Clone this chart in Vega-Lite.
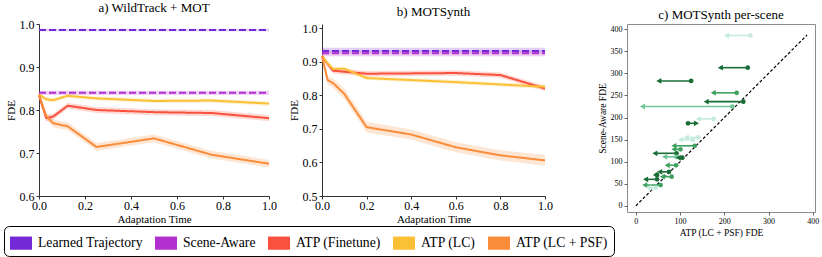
{
  "$schema": "https://vega.github.io/schema/vega-lite/v6.json",
  "padding": {"left": 3, "top": 2, "right": 2, "bottom": 0},
  "config": {
    "font": "Liberation Serif",
    "view": {"stroke": null},
    "axis": {"grid": false, "labelFont": "Liberation Serif", "titleFont": "Liberation Serif", "labelColor": "black", "titleColor": "black", "titleFontWeight": "normal", "domainColor": "#333", "tickColor": "#333", "labelFlush": false, "labelOverlap": false},
    "title": {"font": "Liberation Serif", "fontSize": 13, "fontWeight": "normal", "color": "black"},
    "legend": {"labelFont": "Liberation Serif"}
  },
  "datasets": {
    "curves": [
      {"panel": "a", "method": "Learned Trajectory", "t": 0, "fde": 0.986, "lo": 0.983, "hi": 0.989},
      {"panel": "a", "method": "Learned Trajectory", "t": 1, "fde": 0.986, "lo": 0.983, "hi": 0.989},
      {"panel": "a", "method": "Scene-Aware", "t": 0, "fde": 0.840, "lo": 0.835, "hi": 0.845},
      {"panel": "a", "method": "Scene-Aware", "t": 1, "fde": 0.840, "lo": 0.835, "hi": 0.845},
      {"panel": "a", "method": "ATP (Finetune)", "t": 0, "fde": 0.834, "lo": 0.828, "hi": 0.840},
      {"panel": "a", "method": "ATP (Finetune)", "t": 0.03125, "fde": 0.781, "lo": 0.774, "hi": 0.788},
      {"panel": "a", "method": "ATP (Finetune)", "t": 0.0625, "fde": 0.785, "lo": 0.778, "hi": 0.792},
      {"panel": "a", "method": "ATP (Finetune)", "t": 0.125, "fde": 0.810, "lo": 0.803, "hi": 0.817},
      {"panel": "a", "method": "ATP (Finetune)", "t": 0.25, "fde": 0.800, "lo": 0.793, "hi": 0.807},
      {"panel": "a", "method": "ATP (Finetune)", "t": 0.5, "fde": 0.795, "lo": 0.788, "hi": 0.802},
      {"panel": "a", "method": "ATP (Finetune)", "t": 0.75, "fde": 0.793, "lo": 0.786, "hi": 0.800},
      {"panel": "a", "method": "ATP (Finetune)", "t": 1, "fde": 0.781, "lo": 0.774, "hi": 0.788},
      {"panel": "a", "method": "ATP (LC)", "t": 0, "fde": 0.836, "lo": 0.831, "hi": 0.841},
      {"panel": "a", "method": "ATP (LC)", "t": 0.03125, "fde": 0.825, "lo": 0.820, "hi": 0.830},
      {"panel": "a", "method": "ATP (LC)", "t": 0.0625, "fde": 0.823, "lo": 0.818, "hi": 0.828},
      {"panel": "a", "method": "ATP (LC)", "t": 0.125, "fde": 0.833, "lo": 0.828, "hi": 0.838},
      {"panel": "a", "method": "ATP (LC)", "t": 0.25, "fde": 0.827, "lo": 0.822, "hi": 0.832},
      {"panel": "a", "method": "ATP (LC)", "t": 0.5, "fde": 0.821, "lo": 0.816, "hi": 0.826},
      {"panel": "a", "method": "ATP (LC)", "t": 0.75, "fde": 0.822, "lo": 0.817, "hi": 0.827},
      {"panel": "a", "method": "ATP (LC)", "t": 1, "fde": 0.815, "lo": 0.810, "hi": 0.820},
      {"panel": "a", "method": "ATP (LC + PSF)", "t": 0, "fde": 0.836, "lo": 0.828, "hi": 0.844},
      {"panel": "a", "method": "ATP (LC + PSF)", "t": 0.03125, "fde": 0.786, "lo": 0.777, "hi": 0.795},
      {"panel": "a", "method": "ATP (LC + PSF)", "t": 0.0625, "fde": 0.769, "lo": 0.760, "hi": 0.778},
      {"panel": "a", "method": "ATP (LC + PSF)", "t": 0.125, "fde": 0.762, "lo": 0.753, "hi": 0.771},
      {"panel": "a", "method": "ATP (LC + PSF)", "t": 0.25, "fde": 0.714, "lo": 0.705, "hi": 0.723},
      {"panel": "a", "method": "ATP (LC + PSF)", "t": 0.5, "fde": 0.734, "lo": 0.725, "hi": 0.743},
      {"panel": "a", "method": "ATP (LC + PSF)", "t": 0.75, "fde": 0.696, "lo": 0.687, "hi": 0.705},
      {"panel": "a", "method": "ATP (LC + PSF)", "t": 1, "fde": 0.675, "lo": 0.666, "hi": 0.684},
      {"panel": "b", "method": "Learned Trajectory", "t": 0, "fde": 0.932, "lo": 0.924, "hi": 0.941},
      {"panel": "b", "method": "Learned Trajectory", "t": 1, "fde": 0.932, "lo": 0.924, "hi": 0.941},
      {"panel": "b", "method": "Scene-Aware", "t": 0, "fde": 0.925, "lo": 0.916, "hi": 0.933},
      {"panel": "b", "method": "Scene-Aware", "t": 1, "fde": 0.925, "lo": 0.916, "hi": 0.933},
      {"panel": "b", "method": "ATP (Finetune)", "t": 0, "fde": 0.917, "lo": 0.909, "hi": 0.925},
      {"panel": "b", "method": "ATP (Finetune)", "t": 0.025, "fde": 0.893, "lo": 0.885, "hi": 0.901},
      {"panel": "b", "method": "ATP (Finetune)", "t": 0.05, "fde": 0.873, "lo": 0.865, "hi": 0.881},
      {"panel": "b", "method": "ATP (Finetune)", "t": 0.1, "fde": 0.870, "lo": 0.862, "hi": 0.878},
      {"panel": "b", "method": "ATP (Finetune)", "t": 0.2, "fde": 0.864, "lo": 0.856, "hi": 0.872},
      {"panel": "b", "method": "ATP (Finetune)", "t": 0.4, "fde": 0.865, "lo": 0.857, "hi": 0.873},
      {"panel": "b", "method": "ATP (Finetune)", "t": 0.6, "fde": 0.866, "lo": 0.858, "hi": 0.874},
      {"panel": "b", "method": "ATP (Finetune)", "t": 0.8, "fde": 0.860, "lo": 0.852, "hi": 0.868},
      {"panel": "b", "method": "ATP (Finetune)", "t": 1, "fde": 0.820, "lo": 0.812, "hi": 0.828},
      {"panel": "b", "method": "ATP (LC)", "t": 0, "fde": 0.917, "lo": 0.911, "hi": 0.923},
      {"panel": "b", "method": "ATP (LC)", "t": 0.025, "fde": 0.895, "lo": 0.889, "hi": 0.901},
      {"panel": "b", "method": "ATP (LC)", "t": 0.05, "fde": 0.878, "lo": 0.872, "hi": 0.884},
      {"panel": "b", "method": "ATP (LC)", "t": 0.1, "fde": 0.879, "lo": 0.873, "hi": 0.885},
      {"panel": "b", "method": "ATP (LC)", "t": 0.2, "fde": 0.851, "lo": 0.845, "hi": 0.857},
      {"panel": "b", "method": "ATP (LC)", "t": 0.4, "fde": 0.845, "lo": 0.839, "hi": 0.851},
      {"panel": "b", "method": "ATP (LC)", "t": 0.6, "fde": 0.839, "lo": 0.833, "hi": 0.845},
      {"panel": "b", "method": "ATP (LC)", "t": 0.8, "fde": 0.832, "lo": 0.826, "hi": 0.838},
      {"panel": "b", "method": "ATP (LC)", "t": 1, "fde": 0.825, "lo": 0.819, "hi": 0.831},
      {"panel": "b", "method": "ATP (LC + PSF)", "t": 0, "fde": 0.917, "lo": 0.905, "hi": 0.929},
      {"panel": "b", "method": "ATP (LC + PSF)", "t": 0.025, "fde": 0.845, "lo": 0.832, "hi": 0.858},
      {"panel": "b", "method": "ATP (LC + PSF)", "t": 0.05, "fde": 0.836, "lo": 0.822, "hi": 0.850},
      {"panel": "b", "method": "ATP (LC + PSF)", "t": 0.1, "fde": 0.804, "lo": 0.789, "hi": 0.819},
      {"panel": "b", "method": "ATP (LC + PSF)", "t": 0.2, "fde": 0.705, "lo": 0.689, "hi": 0.721},
      {"panel": "b", "method": "ATP (LC + PSF)", "t": 0.4, "fde": 0.683, "lo": 0.668, "hi": 0.698},
      {"panel": "b", "method": "ATP (LC + PSF)", "t": 0.6, "fde": 0.645, "lo": 0.630, "hi": 0.660},
      {"panel": "b", "method": "ATP (LC + PSF)", "t": 0.8, "fde": 0.621, "lo": 0.606, "hi": 0.636},
      {"panel": "b", "method": "ATP (LC + PSF)", "t": 1, "fde": 0.606, "lo": 0.590, "hi": 0.622}
    ],
    "scenes": [
      {"sa": 386, "lc": 259, "psf": 205, "shade": "vlight", "dir": "left"},
      {"sa": 313, "lc": 253, "psf": 191, "shade": "dark", "dir": "left"},
      {"sa": 283, "lc": 125, "psf": 52, "shade": "dark", "dir": "left"},
      {"sa": 256, "lc": 228, "psf": 175, "shade": "medium", "dir": "left"},
      {"sa": 236, "lc": 243, "psf": 159, "shade": "dark", "dir": "left"},
      {"sa": 225, "lc": 218, "psf": 15, "shade": "light", "dir": "left"},
      {"sa": 197, "lc": 176, "psf": 141, "shade": "vlight", "dir": "left"},
      {"sa": 187, "lc": 118, "psf": 137, "shade": "dark", "dir": "right"},
      {"sa": 155, "lc": 141, "psf": 114, "shade": "vlight", "dir": "left"},
      {"sa": 150, "lc": 129, "psf": 101, "shade": "vlight", "dir": "left"},
      {"sa": 136, "lc": 133, "psf": 86, "shade": "medium", "dir": "left"},
      {"sa": 128, "lc": 101, "psf": 86, "shade": "medium", "dir": "left"},
      {"sa": 119, "lc": 92, "psf": 43, "shade": "dark", "dir": "left"},
      {"sa": 111, "lc": 92, "psf": 65, "shade": "light", "dir": "left"},
      {"sa": 109, "lc": 105, "psf": 96, "shade": "dark", "dir": "left"},
      {"sa": 92, "lc": 91, "psf": 71, "shade": "medium", "dir": "left"},
      {"sa": 77, "lc": 75, "psf": 54, "shade": "dark", "dir": "left"},
      {"sa": 70, "lc": 48, "psf": 44, "shade": "dark", "dir": "left"},
      {"sa": 66, "lc": 81, "psf": 60, "shade": "medium", "dir": "left"},
      {"sa": 60, "lc": 48, "psf": 22, "shade": "dark", "dir": "left"},
      {"sa": 47, "lc": 56, "psf": 20, "shade": "medium", "dir": "left"},
      {"sa": 41, "lc": 45, "psf": 29, "shade": "vlight", "dir": "left"}
    ],
    "diag": [{"p": 0}, {"p": 387}]
  },
  "hconcat": [
    {
      "spacing": 11,
      "hconcat": [
        {
          "width": 230, "height": 172,
          "title": {"text": "a) WildTrack + MOT", "offset": 3, "font": "Liberation Serif", "fontWeight": "normal", "fontSize": 13},
          "data": {"name": "curves"},
          "transform": [{"filter": "datum.panel === 'a'"}],
          "encoding": {
            "x": {"field": "t", "type": "quantitative", "scale": {"domain": [0, 1], "nice": false}, "axis": {"title": "Adaptation Time", "values": [0, 0.2, 0.4, 0.6, 0.8, 1.0], "tickCount": 20, "format": ".1f", "labelFont": "Liberation Serif", "titleFont": "Liberation Serif", "labelFontSize": 12, "titleFontSize": 11, "tickSize": 3, "labelPadding": 1, "titlePadding": 2, "labelOverlap": false}}
          },
          "layer": [
            {
              "mark": {"type": "area", "opacity": 0.22},
              "encoding": {
                "y": {"field": "lo", "type": "quantitative", "scale": {"domain": [0.6, 1.0], "nice": false}, "axis": {"title": "FDE", "values": [0.6, 0.7, 0.8, 0.9, 1.0], "tickCount": 20, "format": ".1f", "labelFont": "Liberation Serif", "titleFont": "Liberation Serif", "labelFontSize": 12, "titleFontSize": 11, "tickSize": 3, "labelPadding": 2, "titlePadding": 3, "labelOverlap": false}},
                "y2": {"field": "hi"},
                "fill": {"field": "method", "type": "nominal", "scale": {"domain": ["Learned Trajectory", "Scene-Aware", "ATP (Finetune)", "ATP (LC)", "ATP (LC + PSF)"], "range": ["#7329d6", "#b22fd0", "#f9513d", "#fcc036", "#fb8c3a"]},
                  "legend": {"orient": "none", "legendX": -35, "legendY": 202, "direction": "horizontal", "title": null, "symbolType": "M-1,-0.6L1,-0.6L1,0.6L-1,0.6Z", "symbolSize": 484, "symbolOpacity": 1, "symbolStrokeWidth": 0, "labelFontSize": 13.7, "labelFont": "Liberation Serif", "labelColor": "black", "labelOffset": 6, "columnPadding": 12, "padding": 6, "strokeColor": "black", "cornerRadius": 5, "fillColor": "white", "labelLimit": 300,
                    "encode": {"symbols": {"update": {"opacity": {"value": 1}, "fillOpacity": {"value": 1}}}}}}
              }
            },
            {
              "mark": {"type": "line", "strokeWidth": 2},
              "encoding": {
                "y": {"field": "fde", "type": "quantitative"},
                "stroke": {"field": "method", "type": "nominal", "scale": {"domain": ["Learned Trajectory", "Scene-Aware", "ATP (Finetune)", "ATP (LC)", "ATP (LC + PSF)"], "range": ["#7329d6", "#b22fd0", "#f9513d", "#fcc036", "#fb8c3a"]}, "legend": null},
                "strokeDash": {"field": "method", "type": "nominal", "scale": {"domain": ["Learned Trajectory", "Scene-Aware", "ATP (Finetune)", "ATP (LC)", "ATP (LC + PSF)"], "range": [[7, 3], [7, 3], [1, 0], [1, 0], [1, 0]]}, "legend": null}
              }
            }
          ]
        },
        {
          "width": 223, "height": 172,
          "title": {"text": "b) MOTSynth", "offset": 3, "font": "Liberation Serif", "fontWeight": "normal", "fontSize": 13},
          "data": {"name": "curves"},
          "transform": [{"filter": "datum.panel === 'b'"}],
          "encoding": {
            "x": {"field": "t", "type": "quantitative", "scale": {"domain": [0, 1], "nice": false}, "axis": {"title": "Adaptation Time", "values": [0, 0.2, 0.4, 0.6, 0.8, 1.0], "tickCount": 20, "format": ".1f", "labelFont": "Liberation Serif", "titleFont": "Liberation Serif", "labelFontSize": 12, "titleFontSize": 11, "tickSize": 3, "labelPadding": 1, "titlePadding": 2, "labelOverlap": false}}
          },
          "layer": [
            {
              "mark": {"type": "area", "opacity": 0.22},
              "encoding": {
                "y": {"field": "lo", "type": "quantitative", "scale": {"domain": [0.5, 1.012], "nice": false}, "axis": {"title": "FDE", "values": [0.5, 0.6, 0.7, 0.8, 0.9, 1.0], "tickCount": 20, "format": ".1f", "labelFont": "Liberation Serif", "titleFont": "Liberation Serif", "labelFontSize": 12, "titleFontSize": 11, "tickSize": 3, "labelPadding": 2, "titlePadding": 3, "labelOverlap": false}},
                "y2": {"field": "hi"},
                "fill": {"field": "method", "type": "nominal"}
              }
            },
            {
              "mark": {"type": "line", "strokeWidth": 2},
              "encoding": {
                "y": {"field": "fde", "type": "quantitative"},
                "stroke": {"field": "method", "type": "nominal", "legend": null},
                "strokeDash": {"field": "method", "type": "nominal", "legend": null}
              }
            }
          ]
        }
      ]
    },
    {
      "width": 188, "height": 188,
      "title": {"text": "c) MOTSynth per-scene", "offset": 2, "font": "Liberation Serif", "fontWeight": "normal", "fontSize": 13},
      "view": {"stroke": "#8c8c8c", "strokeWidth": 1},
      "layer": [
        {
          "data": {"name": "diag"},
          "mark": {"type": "line", "color": "black", "strokeWidth": 1.2, "strokeDash": [3, 2]},
          "encoding": {
            "x": {"field": "p", "type": "quantitative", "scale": {"domain": [-20, 405], "nice": false, "zero": false}, "axis": {"title": "ATP (LC + PSF) FDE", "values": [0, 100, 200, 300, 400], "tickCount": 20, "domain": false, "labelFont": "Liberation Serif", "titleFont": "Liberation Serif", "labelFontSize": 8, "titleFontSize": 9.5, "tickSize": 3, "tickColor": "#666", "labelPadding": 2, "titlePadding": 2}},
            "y": {"field": "p", "type": "quantitative", "scale": {"domain": [-14, 412], "nice": false, "zero": false}, "axis": {"title": "Scene-Aware FDE", "values": [0, 50, 100, 150, 200, 250, 300, 350, 400], "tickCount": 20, "domain": false, "labelFont": "Liberation Serif", "titleFont": "Liberation Serif", "labelFontSize": 8, "titleFontSize": 9.5, "tickSize": 3, "tickColor": "#666", "labelPadding": 2, "titlePadding": 3}}
          }
        },
        {
          "data": {"name": "scenes"},
          "mark": {"type": "rule", "strokeWidth": 1.6},
          "encoding": {
            "x": {"field": "lc", "type": "quantitative"},
            "x2": {"field": "psf"},
            "y": {"field": "sa", "type": "quantitative"},
            "color": {"field": "shade", "type": "nominal", "scale": {"domain": ["vlight", "light", "medium", "dark"], "range": ["#c4ebdc", "#6fc594", "#3fa260", "#1a6d37"]}, "legend": null}
          }
        },
        {
          "data": {"name": "scenes"},
          "mark": {"type": "point", "filled": true, "opacity": 1, "size": 22, "shape": "circle"},
          "encoding": {
            "x": {"field": "lc", "type": "quantitative"},
            "y": {"field": "sa", "type": "quantitative"},
            "color": {"field": "shade", "type": "nominal", "legend": null}
          }
        },
        {
          "data": {"name": "scenes"},
          "mark": {"type": "point", "filled": true, "opacity": 1, "size": 34},
          "encoding": {
            "x": {"field": "psf", "type": "quantitative"},
            "y": {"field": "sa", "type": "quantitative"},
            "shape": {"field": "dir", "type": "nominal", "scale": {"domain": ["left", "right"], "range": ["triangle-left", "triangle-right"]}, "legend": null},
            "color": {"field": "shade", "type": "nominal", "legend": null}
          }
        }
      ]
    }
  ],
  "spacing": 43
}
